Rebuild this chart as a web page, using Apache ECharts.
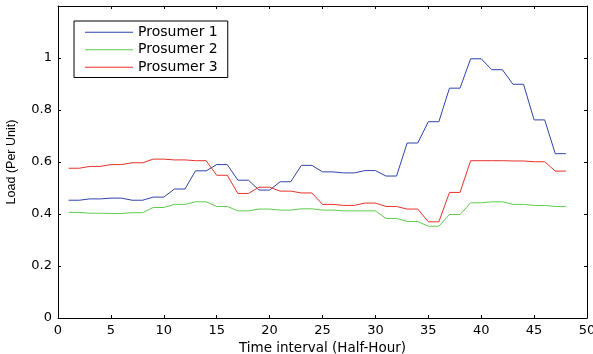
<!DOCTYPE html>
<html>
<head>
<meta charset="utf-8">
<script src="https://cdn.jsdelivr.net/npm/echarts@6/dist/echarts.min.js"></script>
<style>html,body{margin:0;padding:0;background:#fff}#c{width:593px;height:354px}</style>
</head>
<body>
<div id="c"></div>
<script>
const intervals = [1,2,3,4,5,6,7,8,9,10,11,12,13,14,15,16,17,18,19,20,21,22,23,24,25,26,27,28,29,30,31,32,33,34,35,36,37,38,39,40,41,42,43,44,45,46,47,48];
const prosumer1 = [0.453,0.453,0.458,0.458,0.461,0.461,0.453,0.453,0.465,0.465,0.496,0.496,0.566,0.566,0.590,0.590,0.530,0.530,0.492,0.492,0.524,0.524,0.587,0.587,0.562,0.562,0.558,0.558,0.567,0.567,0.546,0.546,0.673,0.673,0.755,0.755,0.884,0.884,0.997,0.997,0.955,0.955,0.899,0.899,0.762,0.762,0.632,0.632];
const prosumer2 = [0.406,0.406,0.403,0.403,0.402,0.402,0.405,0.405,0.425,0.425,0.437,0.437,0.447,0.447,0.429,0.429,0.412,0.412,0.419,0.419,0.415,0.415,0.420,0.420,0.415,0.415,0.412,0.412,0.412,0.412,0.383,0.383,0.371,0.371,0.353,0.353,0.398,0.398,0.443,0.443,0.447,0.447,0.437,0.437,0.433,0.433,0.429,0.429];
const prosumer3 = [0.576,0.576,0.583,0.583,0.590,0.590,0.597,0.597,0.611,0.611,0.608,0.608,0.605,0.605,0.549,0.549,0.479,0.479,0.503,0.503,0.488,0.488,0.481,0.481,0.437,0.437,0.433,0.433,0.442,0.442,0.429,0.429,0.419,0.419,0.370,0.370,0.483,0.483,0.605,0.605,0.605,0.605,0.604,0.604,0.601,0.601,0.565,0.565];
const seriesNames = ['Prosumer 1','Prosumer 2','Prosumer 3'];
const xLabel = 'Time interval (Half-Hour)';
const yLabel = 'Load (Per Unit)';

const colors = ['#2f44ad','#5fcc4c','#e8322a'];
const font = 'DejaVu Sans';
const pairs = v => intervals.map((x,i)=>[x,v[i]]);
const chart = echarts.init(document.getElementById('c'));
const axisLineStyle = {color:'#000', width:1};
chart.setOption({
  animation:false,
  backgroundColor:'#fff',
  grid:{left:58,right:6,top:6,bottom:36,containLabel:false,outerBoundsMode:'none'},
  legend:{
    orient:'vertical', left:74, top:21,
    backgroundColor:'#fff', borderColor:'#000', borderWidth:1, borderRadius:0,
    padding:[3,10,2,11], itemGap:1, itemWidth:48, itemHeight:1.2, icon:'rect',
    textStyle:{fontFamily:font, fontSize:14, color:'#000', lineHeight:16.5},
    data:seriesNames
  },
  xAxis:[{
    type:'value', min:0, max:50, interval:5, position:'bottom',
    name:xLabel, nameLocation:'middle', nameGap:19,
    nameTextStyle:{fontFamily:font, fontSize:13.5, color:'#000'},
    axisLine:{show:true, onZero:false, lineStyle:axisLineStyle},
    axisTick:{show:true, inside:true, length:3, lineStyle:{color:'#000'}},
    axisLabel:{fontFamily:font, fontSize:13, color:'#000', margin:6},
    splitLine:{show:false}
  },{
    type:'value', min:0, max:50, interval:5, position:'top',
    axisLine:{show:true, onZero:false, lineStyle:axisLineStyle},
    axisTick:{show:true, inside:true, length:3, lineStyle:{color:'#000'}},
    axisLabel:{show:false}, splitLine:{show:false}
  }],
  yAxis:[{
    type:'value', min:0, max:1.2, interval:0.2, position:'left',
    name:yLabel, nameLocation:'middle', nameGap:40, nameRotate:90,
    nameTextStyle:{fontFamily:'Liberation Sans', fontSize:12.5, color:'#000'},
    axisLine:{show:true, onZero:false, lineStyle:axisLineStyle},
    axisTick:{show:true, inside:true, length:3, lineStyle:{color:'#000'}},
    axisLabel:{fontFamily:font, fontSize:13, color:'#000', margin:6,
      formatter:v => (v > 1.1 ? '' : String(Math.round(v*10)/10))},
    splitLine:{show:false}
  },{
    type:'value', min:0, max:1.2, interval:0.2, position:'right',
    axisLine:{show:true, onZero:false, lineStyle:axisLineStyle},
    axisTick:{show:true, inside:true, length:3, lineStyle:{color:'#000'}},
    axisLabel:{show:false}, splitLine:{show:false}
  }],
  series:[prosumer1,prosumer2,prosumer3].map((v,i)=>({
    name:seriesNames[i], type:'line', data:pairs(v),
    xAxisIndex:0, yAxisIndex:0,
    symbol:'none', showSymbol:false,
    lineStyle:{color:colors[i], width:1}, itemStyle:{color:colors[i]}
  }))
});
</script>
</body>
</html>
